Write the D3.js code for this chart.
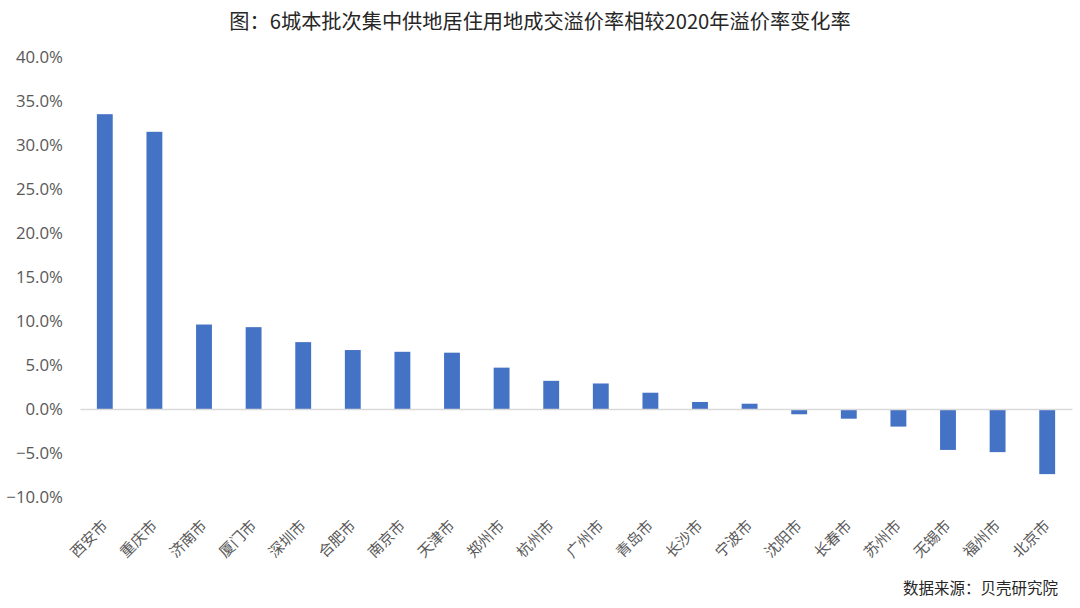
<!DOCTYPE html>
<html><head><meta charset="utf-8">
<script src="https://cdn.jsdelivr.net/npm/d3@7"></script>
<style>
html,body{margin:0;padding:0;background:#fff;}
svg{display:block;font-family:"Noto Sans CJK SC","Noto Sans",sans-serif;}
</style></head>
<body><svg id="chart" width="1080" height="608"></svg>
<script>
const titleText = "图：6城本批次集中供地居住用地成交溢价率相较2020年溢价率变化率";
const sourceText = "数据来源：贝壳研究院";
const cities = ["西安市","重庆市","济南市","厦门市","深圳市","合肥市","南京市","天津市","郑州市","杭州市","广州市","青岛市","长沙市","宁波市","沈阳市","长春市","苏州市","无锡市","福州市","北京市"];
const values = [0.335,0.315,0.096,0.093,0.076,0.067,0.065,0.064,0.047,0.032,0.029,0.0185,0.008,0.006,-0.006,-0.011,-0.020,-0.0465,-0.049,-0.074];
const yTicks = [-0.10,-0.05,0,0.05,0.10,0.15,0.20,0.25,0.30,0.35,0.40];

const svg = d3.select("#chart");
const x = d3.scaleBand().domain(cities).range([80,1072]).paddingInner(0.68).paddingOuter(0.34);
const y = d3.scaleLinear().domain([-0.10,0.40]).range([497,57]);

svg.append("text").attr("x",540).attr("y",29).attr("text-anchor","middle")
  .attr("font-size",20.2).attr("fill","#262626").text(titleText);

// y axis labels
const yAxis = d3.axisLeft(y).tickValues(yTicks).tickFormat(d3.format(".1%")).tickSize(0).tickPadding(0);
const yg = svg.append("g").attr("transform","translate(63,0)").call(yAxis);
yg.select(".domain").remove();
yg.selectAll("text").attr("font-size",16.8).attr("fill","#595959")
  .attr("font-family","'Open Sans','Noto Sans',sans-serif");

// bars
svg.append("g").selectAll("rect").data(values).join("rect")
  .attr("x",(d,i)=>x(cities[i]))
  .attr("width",x.bandwidth())
  .attr("y",d=>y(Math.max(0,d)))
  .attr("height",d=>Math.abs(y(d)-y(0)))
  .attr("fill","#4472C4");

// zero line / x axis
const xAxis = d3.axisBottom(x).tickSize(0).tickPadding(0);
const xg = svg.append("g").attr("transform",`translate(0,${y(0)})`).call(xAxis);
xg.select(".domain").attr("stroke","#d9d9d9").attr("stroke-width",1.5);
xg.selectAll("text").remove();

// rotated category labels
svg.append("g").selectAll("text").data(cities).join("text")
  .attr("transform",d=>`translate(${x(d)+x.bandwidth()/2},${523}) rotate(-45)`)
  .attr("text-anchor","end").attr("dy","0.35em")
  .attr("font-size",15).attr("fill","#595959").text(d=>d);

svg.append("text").attr("x",1058).attr("y",594).attr("text-anchor","end")
  .attr("font-size",15.5).attr("fill","#262626").text(sourceText);
</script></body></html>
